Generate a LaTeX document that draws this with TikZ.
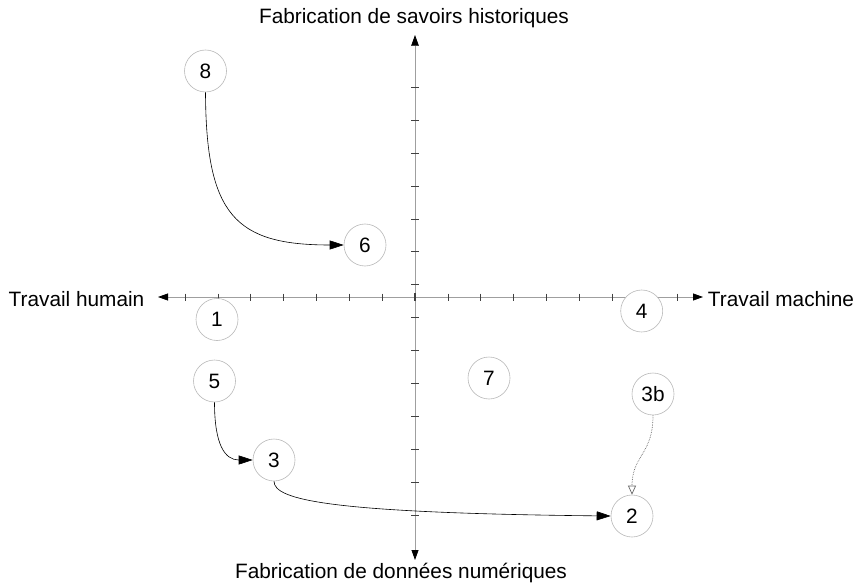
\documentclass[tikz,border=0pt]{standalone}
\usepackage{fontspec}
\setmainfont{Liberation Sans}
\usetikzlibrary{arrows.meta,calc}
\begin{document}
\begin{tikzpicture}[x=1pt,y=-1pt,
  font=\fontsize{20.8}{25}\selectfont,
  axisline/.style={draw=gray!75, line width=0.8pt},
  tickmark/.style={draw=black!75, line width=0.7pt},
  numnode/.style={circle, draw=gray!55, fill=white, line width=0.6pt, minimum size=42pt, inner sep=0pt},
  flow/.style={-{Triangle[length=14pt,width=9pt]}, line width=0.6pt, draw=black},
  weakflow/.style={-{Triangle[open,length=9pt,width=8pt]}, densely dotted, line width=0.7pt, draw=black!60}
]
\useasboundingbox (0,0) rectangle (858,585);
% axes
\coordinate (O) at (415,297);
\coordinate (L) at (158,297);
\coordinate (R) at (703,297);
\coordinate (T) at (415,35);
\coordinate (B) at (415,560);
\draw[axisline, {Triangle[length=10pt,width=7pt,color=black]}-{Triangle[length=10pt,width=7pt,color=black]}] (L) -- (R);
\draw[axisline, {Triangle[length=10pt,width=7pt,color=black]}-{Triangle[length=10pt,width=7pt,color=black]}] (B) -- (T);
% ticks
\foreach \k in {1,...,7} \draw[tickmark] ($(O)+(-32.85*\k,-3.5)$) -- ++(0,7);
\foreach \k in {1,...,8} \draw[tickmark] ($(O)+(32.85*\k,-3.5)$) -- ++(0,7);
\draw[tickmark, line width=1.1pt] ($(O)+(0,-4)$) -- ++(0,8);
\foreach \yy in {45,87.3,120.2,153.1,186,218.9,251.8,284.7,317.7,350.6,383.5,416.4,449.3,482.2,515.1}
  \draw[tickmark] (411,\yy) -- (419,\yy);
% axis labels
\node (lt) at (414,18) {Fabrication de savoirs historiques};
\node (lb) at (401,573) {Fabrication de données numériques};
\node (ll) at (76.5,299) {Travail humain};
\node (lr) at (781,299) {Travail machine};
% numbered nodes
\node[numnode] (n8) at (205.5,71) {8};
\node[numnode] (n6) at (365,245) {6};
\node[numnode] (n1) at (217,319.5) {1};
\node[numnode] (n4) at (641.7,311) {4};
\node[numnode] (n5) at (214.5,381) {5};
\node[numnode] (n7) at (489,378) {7};
\node[numnode] (n3b) at (653,394) {3b};
\node[numnode] (n3) at (274,460) {3};
\node[numnode] (n2) at (632,516) {2};
% connectors
\draw[flow] (n8.south) .. controls (206,215) and (235,245) .. (n6.west);
\draw[flow] (n5.south) .. controls (214.5,445) and (225,460) .. (n3.west);
\draw[flow] (n3.south) .. controls (274,500) and (330,513) .. (n2.west);
\draw[weakflow] (n3b.south) .. controls (653,455) and (632,455) .. (n2.north);
\end{tikzpicture}
\end{document}
